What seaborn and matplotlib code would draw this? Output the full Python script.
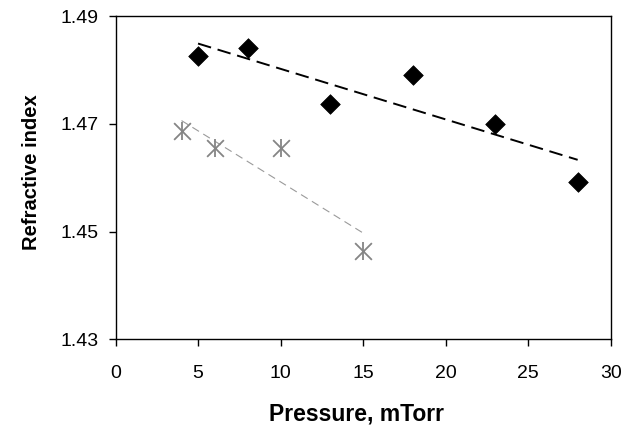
import numpy as np
import pandas as pd
import matplotlib
matplotlib.use("Agg")
import matplotlib.pyplot as plt
import seaborn as sns

# Data
p_black = [5, 8, 13, 18, 23, 28]
n_black = [1.4825, 1.4840, 1.4736, 1.4791, 1.4699, 1.4593]
p_gray = [4, 6, 10, 15]
n_gray = [1.4687, 1.4656, 1.4656, 1.4465]
x_ticks = [0, 5, 10, 15, 20, 25, 30]
y_ticks = [1.43, 1.45, 1.47, 1.49]

sns.set_theme(style="ticks")
plt.rcParams['font.family'] = ['Liberation Sans', 'DejaVu Sans']

df_b = pd.DataFrame({"p": p_black, "n": n_black})
df_g = pd.DataFrame({"p": p_gray, "n": n_gray})

fig = plt.figure(figsize=(6.23, 4.28), dpi=100)
ax = fig.add_axes([0.1854, 0.2068, 0.7948, 0.7558])

# trend lines
sns.regplot(data=df_b, x="p", y="n", ax=ax, scatter=False, ci=None, truncate=True,
            line_kws=dict(color="black", linestyle=(0, (7, 3.5)), linewidth=1.4))
sns.regplot(data=df_g, x="p", y="n", ax=ax, scatter=False, ci=None, truncate=True,
            line_kws=dict(color="#9a9a9a", linestyle=(0, (7, 4.5)), linewidth=0.8))

# markers
sns.scatterplot(data=df_b, x="p", y="n", ax=ax, marker="D", s=100, color="black",
                edgecolor="black", linewidth=0.5, zorder=5)
gray = "#858585"
sns.scatterplot(data=df_g, x="p", y="n", ax=ax, marker="x", s=145, color=gray,
                linewidth=1.3, zorder=5)
sns.scatterplot(data=df_g, x="p", y="n", ax=ax, marker="|", s=165, color=gray,
                linewidth=1.3, zorder=5)

ax.set_xlim(0, 30)
ax.set_ylim(1.43, 1.49)
ax.set_xticks(x_ticks)
ax.set_yticks(y_ticks)
ax.set_xticklabels([str(t) for t in x_ticks])
ax.set_yticklabels([f"{t:.2f}" for t in y_ticks])
ax.tick_params(direction="out", length=5, width=1, colors="black", labelsize=14)
ax.tick_params(axis="x", pad=13.5)
ax.tick_params(axis="y", pad=7)
for s in ax.spines.values():
    s.set_visible(True)
    s.set_color("black")
    s.set_linewidth(1)

ax.set_xlabel("Pressure, mTorr", fontsize=16.5, fontweight="bold", color="black")
ax.set_ylabel("Refractive index", fontsize=14.5, fontweight="bold", color="black")
ax.xaxis.set_label_coords(0.4875, -0.195)
ax.yaxis.set_label_coords(-0.150, 0.516)

fig.savefig("out.png", dpi=100)
